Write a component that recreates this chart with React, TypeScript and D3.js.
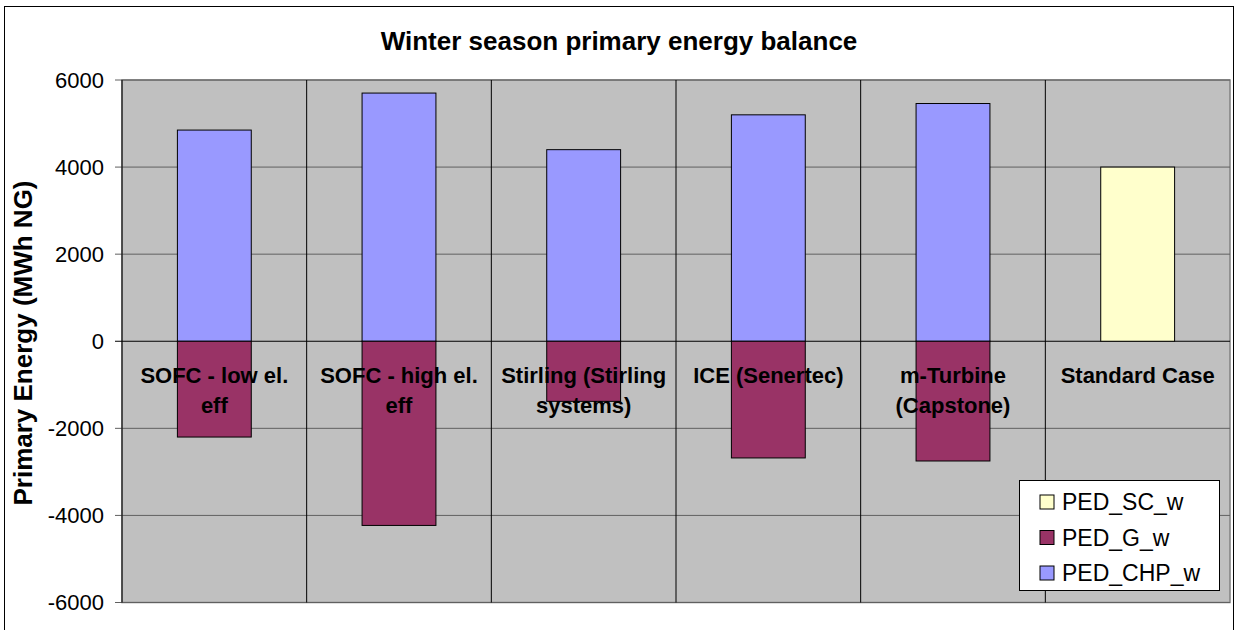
import React from "react";
import * as d3 from "d3";

const categories = [
  "SOFC - low el. eff",
  "SOFC - high el. eff",
  "Stirling (Stirling systems)",
  "ICE (Senertec)",
  "m-Turbine (Capstone)",
  "Standard Case",
];
const pedCHP = [4850, 5700, 4400, 5200, 5460, 0];
const pedG = [-2200, -4230, -1380, -2680, -2750, 0];
const pedSC = [0, 0, 0, 0, 0, 4000];
const yTicks = [-6000, -4000, -2000, 0, 2000, 4000, 6000];
const legendItems = [
  { name: "PED_SC_w", color: "#FFFFCC" },
  { name: "PED_G_w", color: "#993366" },
  { name: "PED_CHP_w", color: "#9999FF" },
];

const FONT = "'Liberation Sans', Arial, sans-serif";
const W = 1238;
const H = 630;
const plot = { left: 122, right: 1230, top: 80, bottom: 602.5 };

function wrap(text: string, maxW: number, font: string): string[] {
  const c = document.createElement("canvas").getContext("2d")!;
  c.font = font;
  const words = text.split(" ");
  const lines: string[] = [];
  let cur = "";
  for (const w of words) {
    const t = cur ? cur + " " + w : w;
    if (cur && c.measureText(t).width > maxW) {
      lines.push(cur);
      cur = w;
    } else cur = t;
  }
  if (cur) lines.push(cur);
  return lines;
}

export default function App() {
  const x = d3.scaleBand<string>().domain(categories).range([plot.left, plot.right]).padding(0);
  const y = d3.scaleLinear().domain([-6000, 6000]).range([plot.bottom, plot.top]);
  const bw = x.bandwidth() * 0.4;

  const bars: { x: number; y0: number; y1: number; color: string }[] = [];
  categories.forEach((c, i) => {
    const cx = (x(c) as number) + x.bandwidth() / 2;
    if (pedCHP[i] !== 0) bars.push({ x: cx - bw / 2, y0: 0, y1: pedCHP[i], color: "#9999FF" });
    if (pedG[i] !== 0) bars.push({ x: cx - bw / 2, y0: 0, y1: pedG[i], color: "#993366" });
    if (pedSC[i] !== 0) bars.push({ x: cx - bw / 2, y0: 0, y1: pedSC[i], color: "#FFFFCC" });
  });

  const catFont = `bold 22px ${FONT}`;

  return (
    <svg width={W} height={H} style={{ position: "absolute", left: 0, top: 0, background: "#fff" }} fontFamily={FONT}>
      <rect x={4.5} y={6.5} width={1229} height={640} fill="#fff" stroke="#000" strokeWidth={1} />
      <text x={619} y={50} textAnchor="middle" fontSize={26} fontWeight="bold">
        Winter season primary energy balance
      </text>
      <rect x={plot.left} y={plot.top} width={plot.right - plot.left} height={plot.bottom - plot.top} fill="#C0C0C0" stroke="#808080" strokeWidth={1.5} />
      {yTicks.map((t) => (
        <line key={"g" + t} x1={plot.left - 7} x2={plot.right} y1={y(t)} y2={y(t)} stroke={t === 0 ? "#000" : "#606060"} strokeWidth={1} />
      ))}
      {categories.slice(1).map((c) => (
        <line key={"v" + c} x1={x(c) as number} x2={x(c) as number} y1={plot.top} y2={plot.bottom} stroke="#000" strokeWidth={1} />
      ))}
      <line x1={plot.left} x2={plot.left} y1={plot.top} y2={plot.bottom} stroke="#000" strokeWidth={1} />
      {bars.map((b, i) => (
        <rect
          key={i}
          x={b.x}
          y={y(Math.max(b.y0, b.y1))}
          width={bw}
          height={Math.abs(y(b.y1) - y(b.y0))}
          fill={b.color}
          stroke="#000"
          strokeWidth={1}
        />
      ))}
      {yTicks.map((t) => (
        <text key={"t" + t} x={104} y={y(t)} dy="0.36em" textAnchor="end" fontSize={22}>
          {t}
        </text>
      ))}
      {categories.map((c) => {
        const lines = wrap(c, 168, catFont);
        const cx = (x(c) as number) + x.bandwidth() / 2;
        return (
          <text key={"c" + c} x={cx} y={383} textAnchor="middle" fontSize={22} fontWeight="bold">
            {lines.map((l, i) => (
              <tspan key={i} x={cx} y={383 + i * 30}>
                {l}
              </tspan>
            ))}
          </text>
        );
      })}
      <text transform={`translate(32, 343) rotate(-90)`} textAnchor="middle" fontSize={26} fontWeight="bold">
        Primary Energy (MWh NG)
      </text>
      <rect x={1019.5} y={480.5} width={200} height={110} fill="#fff" stroke="#000" strokeWidth={1} />
      {legendItems.map((it, i) => {
        const cy = 502 + i * 35.5;
        return (
          <g key={it.name}>
            <rect x={1040} y={cy - 7} width={14} height={14} fill={it.color} stroke="#000" strokeWidth={1} />
            <text x={1062} y={cy} dy="0.36em" fontSize={23}>
              {it.name}
            </text>
          </g>
        );
      })}
    </svg>
  );
}
